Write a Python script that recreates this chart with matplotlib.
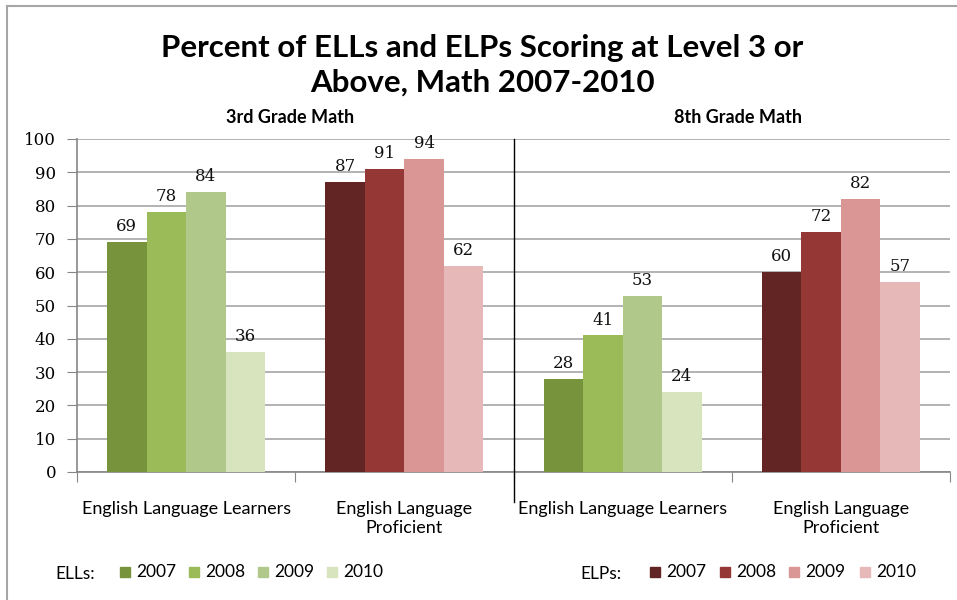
import numpy as np
import matplotlib
matplotlib.use("Agg")
from matplotlib import pyplot as plt
from matplotlib.patches import Rectangle
from matplotlib.lines import Line2D

# 数据部分
years = ["2007", "2008", "2009", "2010"]
groups = ["English Language Learners", "English Language\nProficient",
          "English Language Learners", "English Language\nProficient"]
grade_titles = ["3rd Grade Math", "8th Grade Math"]

ell_3rd = [69, 78, 84, 36]
elp_3rd = [87, 91, 94, 62]
ell_8th = [28, 41, 53, 24]
elp_8th = [60, 72, 82, 57]

green = ["#77933C", "#9BBB59", "#B0C98A", "#D7E4BD"]
red = ["#632523", "#953735", "#D99694", "#E6B9B8"]

sans = "Lato"
serif = "DejaVu Serif"

fig = plt.figure(figsize=(9.57, 6), dpi=100)
W, H = 957.0, 600.0

# 画布边框（上、左）
fig.add_artist(Line2D([7/W, 1], [1-6/H, 1-6/H], color="#A6A6A6", lw=1.5))
fig.add_artist(Line2D([7/W, 7/W], [0, 1-6/H], color="#A6A6A6", lw=1.5))

ax = fig.add_axes([77/W, 128/H, (950-77)/W, (472-139)/H])

series = [(ell_3rd, green, 0), (elp_3rd, red, 1), (ell_8th, green, 2), (elp_8th, red, 3)]
w = 0.181
for vals, cols, slot in series:
    for i, v in enumerate(vals):
        x = slot + 0.5 + (i - 1.5) * w
        ax.bar(x, v, width=w, color=cols[i], zorder=3)
        ax.annotate(str(v), (x, v), xytext=(0, 5), textcoords="offset points",
                    ha="center", va="bottom", fontsize=12, family=serif, color="#111111")

ax.set_xlim(0, 4)
ax.set_ylim(0, 100)
ax.set_yticks(range(0, 101, 10))
ax.yaxis.grid(True, color="#A6A6A6", lw=1.2, zorder=0)
for lab in ax.get_yticklabels():
    lab.set_family(serif)
ax.tick_params(axis="y", direction="out", length=7, color="#868686", labelsize=12, pad=8)

ax.set_xticks(range(5))
ax.set_xticklabels([])
ax.set_xticks([0.5, 1.5, 2.5, 3.5], minor=True)
ax.set_xticklabels(groups, minor=True, family=sans, fontsize=13)
ax.tick_params(axis="x", which="minor", length=0, pad=21)
ax.tick_params(axis="x", which="major", direction="out", length=7, color="#868686")

for s in ["top", "right"]:
    ax.spines[s].set_visible(False)
for s in ["left", "bottom"]:
    ax.spines[s].set_color("#868686")
    ax.spines[s].set_linewidth(1.2)

# 中间分隔线
trans = ax.get_xaxis_transform()
ax.plot([2, 2], [1.0, -0.09], color="black", lw=1, transform=trans, clip_on=False, zorder=4)

# 标题
fig.text(482/W, 1-48/H, "Percent of ELLs and ELPs Scoring at Level 3 or",
         ha="center", va="center", fontsize=22.5, fontweight="bold", family=sans)
fig.text(482/W, 1-83/H, "Above, Math 2007-2010",
         ha="center", va="center", fontsize=22.5, fontweight="bold", family=sans)
fig.text(290/W, 1-117/H, grade_titles[0], ha="center", va="center",
         fontsize=13, fontweight="bold", family=sans)
fig.text(738/W, 1-117/H, grade_titles[1], ha="center", va="center",
         fontsize=13, fontweight="bold", family=sans)

# 图例
def legend(label, x0, xs, cols):
    fig.text(x0/W, 1-574/H, label, ha="left", va="center", fontsize=12.5, family=sans)
    for xi, c, y in zip(xs, cols, years):
        fig.add_artist(Rectangle((xi/W, 1-577/H), 10/W, 10/H, color=c, transform=fig.transFigure))
        fig.text((xi+16)/W, 1-572/H, y, ha="left", va="center", fontsize=12.5, family=sans)

legend("ELLs:", 55, [120, 189, 258, 327], green)
legend("ELPs:", 580, [650, 720, 789, 860], red)

plt.savefig("out.png", dpi=100)
